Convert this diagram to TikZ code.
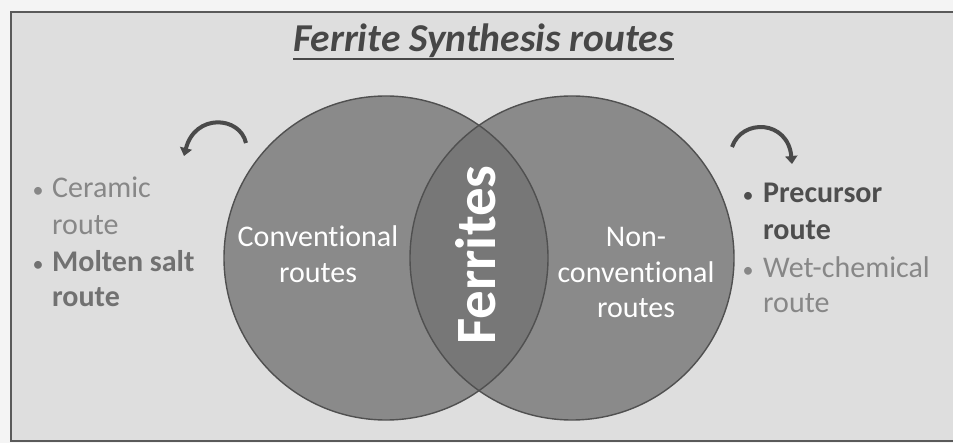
\documentclass[tikz,border=0pt]{standalone}
\usepackage{fontspec}
\setmainfont{Carlito}[Ligatures=NoCommon]
\usetikzlibrary{arrows.meta}
\definecolor{pagebg}{HTML}{F4F4F4}
\definecolor{framebg}{HTML}{DEDEDE}
\definecolor{framecol}{HTML}{5A5A5A}
\definecolor{circfill}{HTML}{8A8A8A}
\definecolor{overlapfill}{HTML}{777777}
\definecolor{circline}{HTML}{505050}
\definecolor{titlecol}{HTML}{474747}
\definecolor{lightitem}{HTML}{878787}
\definecolor{darkitem}{HTML}{4E4E4E}
\definecolor{arrowcol}{HTML}{4A4A4A}
\tikzset{
  venn/.style={circle, minimum size=324pt, inner sep=0pt, fill=circfill},
  vennline/.style={draw=circline, line width=1.4pt},
  label/.style={text=white, font=\fontsize{30}{36}\selectfont, anchor=base, inner sep=0pt},
  itemtext/.style={font=\fontsize{30}{36}\selectfont, anchor=base west, inner sep=0pt},
  bul/.style={font=\fontsize{22}{26}\selectfont, anchor=base, inner sep=0pt},
  curarrow/.style={draw=arrowcol, line width=4pt, -{Triangle[length=8pt,width=12pt]}}
}
\begin{document}
\begin{tikzpicture}[x=1pt,y=-1pt]
\useasboundingbox (0,0) rectangle (953,443);
\fill[pagebg] (0,0) rectangle (953,443);
\fill[framebg] (11,12) rectangle (953,441);
\draw[framecol, line width=2pt] (953,12) -- (11,12) -- (11,441) -- (953,441);

% title
\node[anchor=base, inner sep=0pt, text=titlecol, font=\fontsize{39.5}{46}\selectfont\bfseries\itshape] (title) at (483.5,52) {Ferrite Synthesis routes};
\draw[titlecol, line width=2pt] ([yshift=-7pt]title.base west) -- ([yshift=-7pt]title.base east);

% circles
\node[venn] (L) at (386,258) {};
\node[venn] (R) at (572,258) {};
\begin{scope}
  \clip (386,258) circle (162);
  \fill[overlapfill] (572,258) circle (162);
\end{scope}
\draw[vennline] (L.center) circle (162);
\draw[vennline] (R.center) circle (162);

% circle labels
\node[label] (conv1) at (318,247) {Conventional};
\node[label] (conv2) at (318,283) {routes};
\node[label] (non1) at (636,247) {Non-};
\node[label] (non2) at (636,283) {conventional};
\node[label] (non3) at (636,318) {routes};
\node[text=white, font=\fontsize{57}{64}\selectfont\bfseries, rotate=90, inner sep=0pt] (fer) at (476,255) {Ferrites};

% left list
\node[bul, text=lightitem] (b1) at (38,198) {•};
\node[itemtext, text=lightitem] (c1) at (52,198) {Ceramic};
\node[itemtext, text=lightitem] (c2) at (52,235) {route};
\node[bul, text=darkitem!80] (b2) at (38,272) {•};
\node[itemtext, text=darkitem!80, font=\fontsize{30}{36}\selectfont\bfseries] (m1) at (52,272) {Molten salt};
\node[itemtext, text=darkitem!80, font=\fontsize{30}{36}\selectfont\bfseries] (m2) at (52,307) {route};

% right list
\node[bul, text=darkitem] (b3) at (748,203) {•};
\node[itemtext, text=darkitem, font=\fontsize{30}{36}\selectfont\bfseries] (p1) at (763,203) {Precursor};
\node[itemtext, text=darkitem, font=\fontsize{30}{36}\selectfont\bfseries] (p2) at (763,240) {route};
\node[bul, text=lightitem] (b4) at (748,278) {•};
\node[itemtext, text=lightitem] (w1) at (763,278) {Wet-chemical};
\node[itemtext, text=lightitem] (w2) at (763,313) {route};

% curved arrows
\coordinate (la1) at (246,143);
\coordinate (la2) at (184,156);
\draw[curarrow] (la1) .. controls (240,116) and (195,113) .. (la2);
\coordinate (ra1) at (732,147);
\coordinate (ra2) at (792,164);
\draw[curarrow] (ra1) .. controls (742,118) and (788,120) .. (ra2);
\end{tikzpicture}
\end{document}
